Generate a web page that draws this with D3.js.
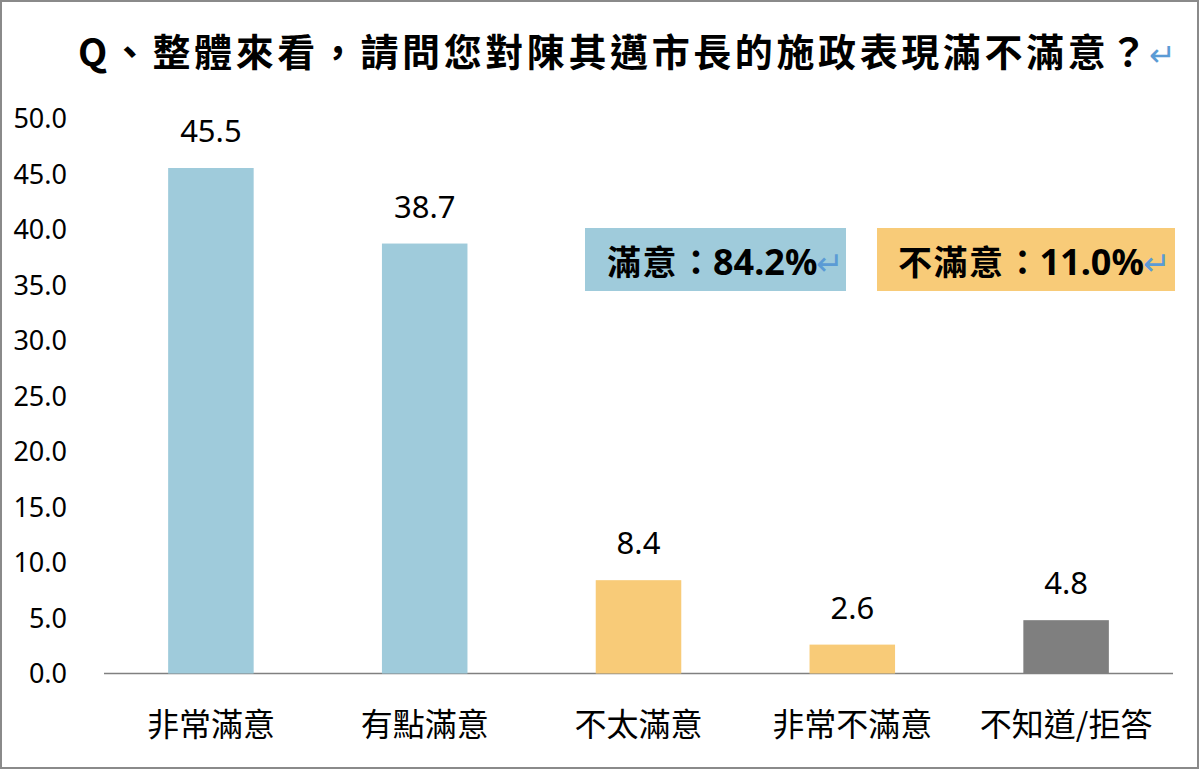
<!DOCTYPE html>
<html><head><meta charset="utf-8">
<script src="https://cdn.jsdelivr.net/npm/d3@7"></script>
<style>
html,body{margin:0;padding:0;background:#fff;}
svg{display:block;font-family:"Noto Sans CJK TC","Noto Sans",sans-serif;}
</style></head>
<body>
<svg id="chart" width="1200" height="771"></svg>
<script>
const titleText = "Q、整體來看，請問您對陳其邁市長的施政表現滿不滿意？";
const categories = ["非常滿意","有點滿意","不太滿意","非常不滿意","不知道/拒答"];
const values = [45.5, 38.7, 8.4, 2.6, 4.8];
const groups = ["sat","sat","dis","dis","na"];
const yTicks = [0,5,10,15,20,25,30,35,40,45,50];
const boxLabels = [["滿意","：","84.2%"],["不滿意","：","11.0%"]];

const colors = {sat:"#9FCBDB", dis:"#F8CB78", na:"#7F7F7F"};

const svg = d3.select("#chart");
svg.append("rect").attr("x",1).attr("y",1).attr("width",1197).attr("height",767)
  .attr("fill","#fff").attr("stroke","#8a8a8a").attr("stroke-width",2);

const x = d3.scaleBand().domain(categories).range([104,1173]).paddingInner(0.6).paddingOuter(0.3);
const y = d3.scaleLinear().domain([0,50]).range([673.5,118]);

// title
const t = svg.append("text").attr("x",78).attr("y",66)
  .attr("font-size",38).attr("font-weight","bold").attr("letter-spacing",3.6).attr("fill","#000");
t.append("tspan").text(titleText);
t.append("tspan").text("↵").attr("fill","#5B9BD5").attr("font-weight","normal").attr("font-size",32).attr("dx",-2);

// y axis tick labels
const yAxis = d3.axisLeft(y).tickValues(yTicks).tickFormat(d3.format(".1f")).tickSize(0).tickPadding(0);
const ya = svg.append("g").attr("transform","translate(67,0)").call(yAxis);
ya.select(".domain").remove();
ya.selectAll("text").attr("font-size",27).attr("fill","#000")
  .attr("font-family","'Noto Sans','Noto Sans CJK TC',sans-serif").attr("dy","0.35em");

// baseline
const xAxis = d3.axisBottom(x).tickSize(0).tickPadding(0);
const xa = svg.append("g").attr("transform",`translate(0,${y(0)})`).call(xAxis);
xa.select(".domain").attr("stroke","#808080").attr("stroke-width",1.5).attr("d","M104,0H1173");
xa.selectAll("text").attr("font-size",32).attr("fill","#000").attr("y",51).attr("dy","0.35em")
  .attr("font-family","'Noto Sans CJK TC',sans-serif");

// bars
svg.append("g").selectAll("rect").data(values).join("rect")
  .attr("x",(d,i)=>x(categories[i]))
  .attr("width",x.bandwidth())
  .attr("y",d=>y(d))
  .attr("height",d=>y(0)-y(d))
  .attr("fill",(d,i)=>colors[groups[i]]);

// value labels
svg.append("g").selectAll("text").data(values).join("text")
  .attr("x",(d,i)=>x(categories[i])+x.bandwidth()/2)
  .attr("y",d=>y(d)-26)
  .attr("text-anchor","middle")
  .attr("font-size",31).attr("fill","#000")
  .attr("font-family","'Noto Sans','Noto Sans CJK TC',sans-serif")
  .text(d=>d.toFixed(1));

// annotation boxes
const boxes = [
  {x0:585,x1:846,fill:colors.sat,label:boxLabels[0],tx:607},
  {x0:877,x1:1175,fill:colors.dis,label:boxLabels[1],tx:898}
];
const bg = svg.append("g").selectAll("g").data(boxes).join("g");
bg.append("rect").attr("x",d=>d.x0).attr("y",228).attr("width",d=>d.x1-d.x0).attr("height",63).attr("fill",d=>d.fill);
const bt = bg.append("text").attr("x",d=>d.tx).attr("y",275)
  .attr("font-size",34).attr("font-weight","bold").attr("fill","#000");
bt.append("tspan").text(d=>d.label[0]).attr("letter-spacing",1.5);
bt.append("tspan").text(d=>d.label[1]).attr("dx",1);
bt.append("tspan").text(d=>d.label[2]).attr("dx",0).attr("font-size",36).attr("font-family","'Noto Sans','Noto Sans CJK TC',sans-serif");
bt.append("tspan").text("↵").attr("fill","#5B9BD5").attr("font-weight","normal").attr("font-size",33).attr("dx",-1);
</script>
</body></html>
